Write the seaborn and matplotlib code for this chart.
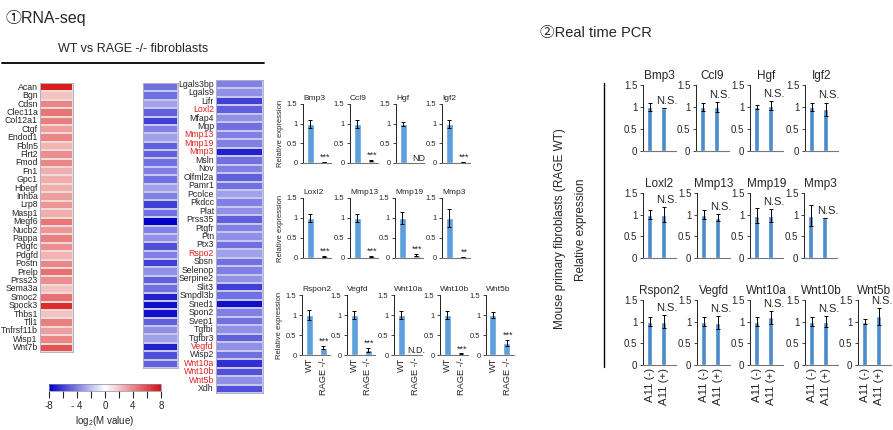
import numpy as np
import pandas as pd
import matplotlib
matplotlib.use('Agg')
import matplotlib.pyplot as plt
import seaborn as sns
from matplotlib.colors import LinearSegmentedColormap

W, H = 893, 430

# RNA-seq heatmap: genes up in RAGE -/- (red column)
up_genes = ['Acan', 'Bgn', 'Cdsn', 'Clec11a', 'Col12a1', 'Ctgf', 'Endod1', 'Fbln5', 'Flrt2',
            'Fmod', 'Fn1', 'Gpc1', 'Hbegf', 'Inhba', 'Lrp8', 'Masp1', 'Megf6', 'Nucb2', 'Pappa',
            'Pdgfc', 'Pdgfd', 'Postn', 'Prelp', 'Prss23', 'Sema3a', 'Smoc2', 'Spock3', 'Thbs1',
            'Tll1', 'Tnfrsf11b', 'Wisp1', 'Wnt7b']
up_vals = [7.5, 2.0, 4.0, 4.6, 4.3, 3.3, 4.0, 2.5, 3.8, 4.0, 2.7, 2.8, 2.8, 3.2, 3.5, 2.8,
           4.5, 3.5, 4.3, 3.8, 2.5, 4.0, 4.8, 3.8, 2.0, 4.8, 7.0, 2.0, 4.3, 3.2, 4.0, 5.8]

# first blue column (labels not shown in the original)
down1_vals = [-4.5, -4.5, -3.0, -5.0, -6.0, -4.0, -3.0, -5.0, -5.0, -4.5, -4.0, -4.5,
              -3.0, -4.0, -6.0, -4.5, -8.0, -4.0, -3.5, -5.5, -4.0, -6.0, -3.5, -5.0,
              -4.5, -7.0, -7.5, -7.5, -5.0, -3.5, -3.0, -7.0, -5.5, -5.0]

# second blue column
down2_genes = ['Lgals3bp', 'Lgals9', 'Lifr', 'Loxl2', 'Mfap4', 'Mgp', 'Mmp13', 'Mmp19', 'Mmp3',
               'Msln', 'Nov', 'Olfml2a', 'Pamr1', 'Pcolce', 'Pkdcc', 'Plat', 'Prss35', 'Ptgfr',
               'Ptn', 'Ptx3', 'Rspo2', 'Sbsn', 'Selenop', 'Serpine2', 'Slit3', 'Smpdl3b',
               'Sned1', 'Spon2', 'Svep1', 'Tgfbi', 'Tgfbr3', 'Vegfd', 'Wisp2', 'Wnt10a',
               'Wnt10b', 'Wnt5b', 'Xdh']
down2_vals = [-4.0, -3.5, -6.0, -5.0, -3.5, -4.5, -4.0, -4.0, -7.0, -4.5, -4.0, -5.0, -4.5,
              -3.0, -4.0, -3.5, -5.0, -4.0, -3.5, -4.5, -3.0, -4.5, -4.0, -3.5, -6.0, -4.5,
              -7.5, -4.0, -4.5, -3.5, -5.0, -3.5, -4.5, -6.5, -5.5, -3.5, -5.5]
highlight = ['Loxl2', 'Mmp13', 'Mmp19', 'Mmp3', 'Rspo2', 'Vegfd', 'Wnt10a', 'Wnt10b', 'Wnt5b']

# qPCR, WT vs RAGE -/-
ko_genes = ['Bmp3', 'Ccl9', 'Hgf', 'Igf2', 'Loxl2', 'Mmp13', 'Mmp19', 'Mmp3',
            'Rspon2', 'Vegfd', 'Wnt10a', 'Wnt10b', 'Wnt5b']
ko_groups = ['WT', 'RAGE -/-']
ko_wt = [1.0, 1.0, 1.0, 1.0, 1.0, 1.0, 1.0, 1.0, 1.0, 1.0, 1.0, 1.0, 1.0]
ko_wt_err = [0.1, 0.1, 0.05, 0.1, 0.1, 0.1, 0.15, 0.23, 0.12, 0.1, 0.1, 0.1, 0.08]
ko_ko = [0.02, 0.06, 0.0, 0.02, 0.04, 0.04, 0.08, 0.02, 0.18, 0.12, 0.0, 0.03, 0.3]
ko_ko_err = [0.0, 0.02, 0.0, 0.0, 0.01, 0.01, 0.02, 0.0, 0.04, 0.05, 0.0, 0.01, 0.07]
ko_marks = ['***', '***', 'ND', '***', '***', '***', '***', '**', '***', '***', 'N.D.', '***', '***']

# Real time PCR, A11 (-) vs A11 (+)
a11_genes = ['Bmp3', 'Ccl9', 'Hgf', 'Igf2', 'Loxl2', 'Mmp13', 'Mmp19', 'Mmp3',
             'Rspon2', 'Vegfd', 'Wnt10a', 'Wnt10b', 'Wnt5b']
a11_groups = ['A11 (-)', 'A11 (+)']
a11_neg = [1.0, 1.0, 1.0, 1.0, 1.0, 1.0, 0.98, 0.98, 1.0, 1.0, 1.0, 1.0, 1.0]
a11_neg_err = [0.1, 0.1, 0.04, 0.1, 0.1, 0.1, 0.17, 0.25, 0.11, 0.1, 0.1, 0.1, 0.06]
a11_pos = [0.97, 1.0, 1.03, 0.95, 1.0, 0.93, 0.97, 0.93, 1.0, 0.98, 1.1, 1.0, 1.12]
a11_pos_err = [0.0, 0.12, 0.1, 0.15, 0.17, 0.08, 0.15, 0.0, 0.15, 0.15, 0.15, 0.12, 0.19]

sns.set_style('white')
plt.rcParams['font.family'] = ['Liberation Sans', 'Noto Sans CJK JP', 'DejaVu Sans']
plt.rcParams['mathtext.default'] = 'regular'

cmap = LinearSegmentedColormap.from_list('bwr_m', ['#0000c8', '#ffffff', '#d81010'])

fig = plt.figure(figsize=(W / 100, H / 100), dpi=100)


def box(x0, y0, x1, y1):
    return fig.add_axes([x0 / W, 1 - y1 / H, (x1 - x0) / W, (y1 - y0) / H])


def heat(ax, names, vals, show_labels, edge):
    df = pd.DataFrame({'M': vals}, index=names)
    sns.heatmap(df, ax=ax, cmap=cmap, vmin=-8, vmax=8, cbar=False, xticklabels=False,
                yticklabels=show_labels, linewidths=0.3, linecolor=edge)
    ax.set_ylabel('')
    ax.tick_params(axis='y', length=0, labelsize=6.3, pad=1.5)
    for t in ax.get_yticklabels():
        t.set_rotation(0)
    for s in ax.spines.values():
        s.set_visible(True)
        s.set_color('#a8a8c0')
        s.set_linewidth(0.6)


# --- (1) RNA-seq ---
fig.text(5 / W, 1 - 18 / H, '\u2460RNA-seq', fontsize=11.5, va='center', ha='left')
fig.text(133 / W, 1 - 49 / H, 'WT vs RAGE -/- fibroblasts', fontsize=9, va='center', ha='center')
fig.add_artist(plt.Line2D([2 / W, 264 / W], [1 - 63 / H, 1 - 63 / H], color='black', lw=1.3))

ax = box(40, 83, 73, 352)
heat(ax, up_genes, up_vals, True, '#f0dada')

ax = box(143, 83, 178, 368)
heat(ax, [str(i) for i in range(len(down1_vals))], down1_vals, False, '#c8c8ee')

ax = box(216, 80, 263, 393)
heat(ax, down2_genes, down2_vals, True, '#c8c8ee')
for t in ax.get_yticklabels():
    if t.get_text() in highlight:
        t.set_color('#e02020')

cax = box(49, 384, 161, 391)
sm = plt.cm.ScalarMappable(norm=plt.Normalize(-8, 8), cmap=cmap)
cb = fig.colorbar(sm, cax=cax, orientation='horizontal')
cb.set_ticks([-8, -6, -4, -2, 0, 2, 4, 6, 8])
cb.set_ticklabels(['-8', '', '- 4', '', '0', '', '4', '', '8'])
cax.tick_params(length=5, width=0.8, labelsize=7, pad=2)
cb.outline.set_edgecolor('#8888aa')
cb.outline.set_linewidth(0.5)
cax.set_xlabel('log$_2$(M value)', fontsize=7, labelpad=2)


def bar_panel(ax, title, groups, m1, e1, m2, e2, color, width, xmax, fs, show_x, mark, ns):
    sns.barplot(x=groups, y=[m1, m2], ax=ax, color=color, width=width, saturation=1,
                errorbar=None, order=groups)
    ax.errorbar([0, 1], [m1, m2], yerr=[e1, e2], fmt='none', ecolor='black',
                elinewidth=0.7, capsize=1.6, capthick=0.7)
    ax.set_ylim(0, 1.5)
    ax.set_xlim(-0.5, xmax)
    ax.set_yticks([0, 0.5, 1, 1.5])
    ax.set_yticklabels(['0', '0.5', '1', '1.5'])
    ax.tick_params(axis='y', length=2.5, width=0.6, labelsize=fs, pad=1.5, left=True)
    ax.tick_params(axis='x', length=0, labelsize=fs + 1.2, pad=2)
    if show_x:
        ax.set_xticks([0, 1])
        ax.set_xticklabels(groups, rotation=90)
    else:
        ax.set_xticklabels([])
    ax.set_xlabel('')
    ax.set_ylabel('')
    sns.despine(ax=ax)
    ax.spines['left'].set_linewidth(0.7)
    ax.spines['left'].set_color('#222222')
    ax.spines['bottom'].set_linewidth(0.8)
    ax.spines['bottom'].set_color('#777777')
    ax.patch.set_alpha(0)
    if ns:
        ax.text(1.25, m2 + e2 + 0.05, mark, fontsize=fs + 1, ha='center', va='bottom')
    else:
        ax.text(1.1, m2 + e2 + 0.0, mark, fontsize=fs + 1, ha='center', va='bottom')
    ax.set_title(title, fontsize=fs + (0.5 if not ns else 1.5), loc='left' if not ns else 'center',
                 pad=3 if not ns else 4)


# qPCR panels of (1)
mid_x = [303, 350, 396, 442, 303, 350, 395, 442, 302, 347, 394, 440, 486]
mid_y = [(104, 163)] * 4 + [(198, 258)] * 4 + [(295, 355)] * 5
for i, g in enumerate(ko_genes):
    y0, y1 = mid_y[i]
    ax = box(mid_x[i], y0, mid_x[i] + 28, y1)
    bar_panel(ax, g, ko_groups, ko_wt[i], ko_wt_err[i], ko_ko[i], ko_ko_err[i], '#5ba0dc',
              0.5, 1.5, 5.5, i >= 8, ko_marks[i], False)
    if i in (0, 4, 8):
        ax.set_ylabel('Relative expression', fontsize=5.5, labelpad=2)

# --- (2) Real time PCR ---
fig.text(540 / W, 1 - 33 / H, '\u2461Real time PCR', fontsize=10.5, va='center', ha='left')
fig.text(560 / W, 1 - 229 / H, 'Mouse primary fibroblasts (RAGE WT)', fontsize=8.5,
         rotation=90, ha='center', va='center')
fig.text(581 / W, 1 - 230 / H, 'Relative expression', fontsize=8.5,
         rotation=90, ha='center', va='center')
fig.add_artist(plt.Line2D([604 / W, 604 / W], [1 - 83 / H, 1 - 367 / H], color='black', lw=1.0))

r_x = [643, 696, 750, 805, 643, 697, 750, 804, 643, 697, 750, 805, 858]
r_y = [(85, 151)] * 4 + [(193, 258)] * 4 + [(300, 365)] * 5
for i, g in enumerate(a11_genes):
    y0, y1 = r_y[i]
    ax = box(r_x[i], y0, r_x[i] + 33, y1)
    bar_panel(ax, g, a11_groups, a11_neg[i], a11_neg_err[i], a11_pos[i], a11_pos_err[i],
              '#4a8bcb', 0.36, 1.9, 7, i >= 8, 'N.S.', True)

fig.savefig('out.png', dpi=100)
